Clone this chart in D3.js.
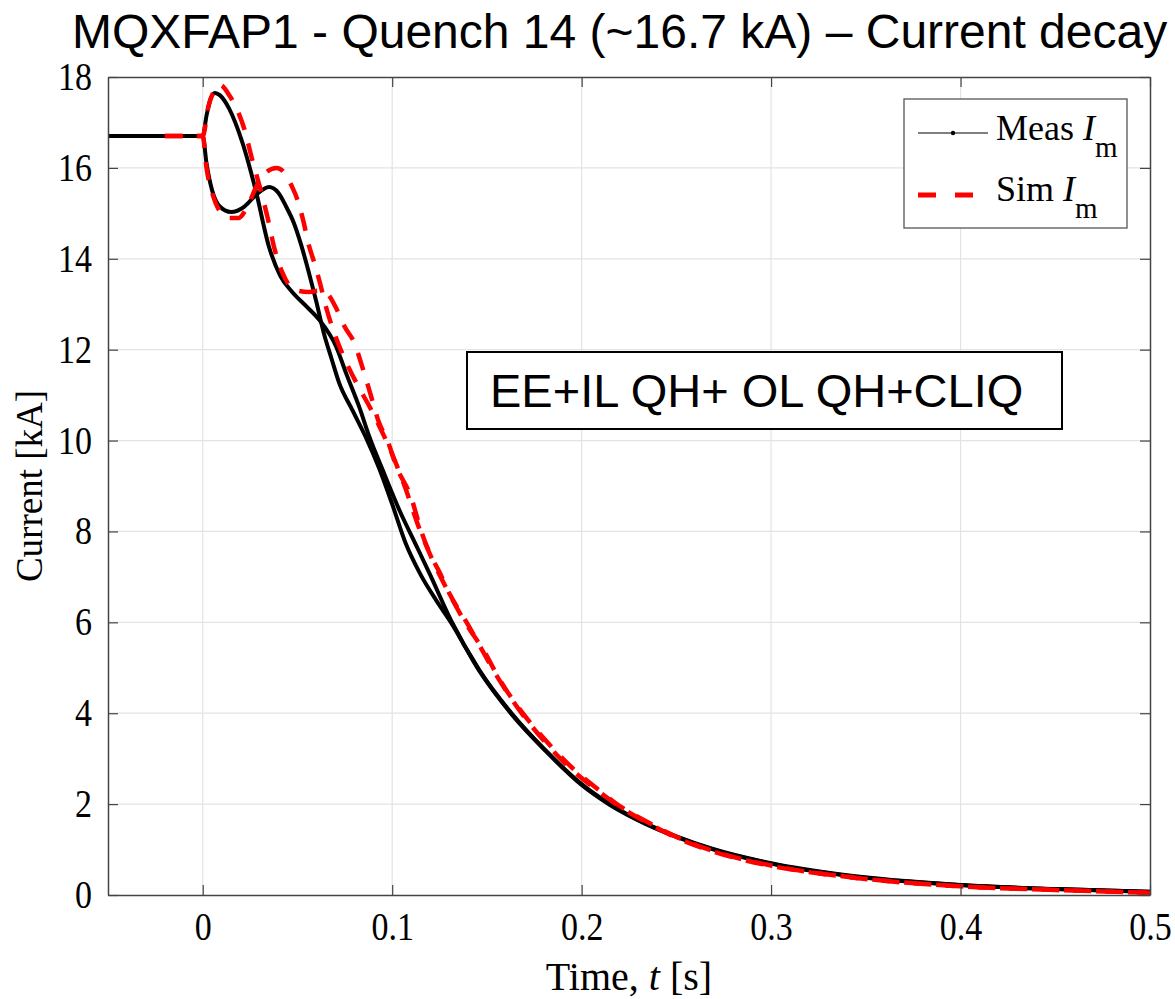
<!DOCTYPE html>
<html>
<head>
<meta charset="utf-8">
<script src="https://cdn.jsdelivr.net/npm/d3@7"></script>
<style>
  body { margin: 0; background: #fff; }
  svg { display: block; }
</style>
</head>
<body>
<svg id="chart"></svg>
<script>
// measured current, two traces (time in s, current in kA)
const measTimeA = [-0.05, 0, 0.002, 0.004, 0.0065, 0.009, 0.014, 0.021, 0.028, 0.035, 0.041, 0.047, 0.055, 0.0616, 0.0705, 0.0756, 0.0826, 0.088, 0.095, 0.104, 0.1126, 0.12, 0.131, 0.146, 0.163, 0.181, 0.2, 0.215, 0.234, 0.25, 0.268, 0.3, 0.339, 0.4, 0.45, 0.5];
const measCurA = [16.7, 16.7, 17.15, 17.5, 17.65, 17.6, 17.3, 16.55, 15.5, 14.26, 13.62, 13.28, 12.94, 12.65, 12.06, 11.49, 10.74, 10.08, 9.35, 8.45, 7.7, 7.05, 6.05, 4.95, 4.0, 3.18, 2.44, 2.0, 1.57, 1.29, 1.03, 0.7, 0.44, 0.22, 0.13, 0.07];

const measTimeB = [-0.05, 0, 0.002, 0.005, 0.009, 0.015, 0.022, 0.028, 0.035, 0.04, 0.044, 0.048, 0.052, 0.056, 0.06, 0.064, 0.068, 0.072, 0.079, 0.086, 0.093, 0.1, 0.107, 0.115, 0.123, 0.131, 0.146, 0.163, 0.181, 0.2, 0.215, 0.234, 0.25, 0.268, 0.3, 0.339, 0.4, 0.45, 0.5];
const measCurB = [16.7, 16.7, 16.1, 15.5, 15.15, 15.03, 15.15, 15.4, 15.58, 15.45, 15.15, 14.8, 14.3, 13.7, 13.05, 12.35, 11.8, 11.27, 10.67, 10.08, 9.4, 8.6, 7.75, 7.05, 6.5, 6.0, 4.93, 3.98, 3.17, 2.42, 1.98, 1.56, 1.28, 1.02, 0.69, 0.43, 0.22, 0.13, 0.07];

// simulated current, two traces
const simTimeA = [-0.02, 0, 0.003, 0.006, 0.009, 0.014, 0.019, 0.022, 0.026, 0.03, 0.034, 0.038, 0.042, 0.046, 0.05, 0.056, 0.062, 0.066, 0.07, 0.075, 0.08, 0.084, 0.088, 0.093, 0.098, 0.102, 0.11, 0.115, 0.12, 0.125, 0.13, 0.14, 0.148, 0.157, 0.168, 0.18, 0.195, 0.21, 0.218, 0.235, 0.25, 0.27, 0.3, 0.34, 0.4, 0.45, 0.5];
const simCurA = [16.7, 16.7, 17.35, 17.7, 17.83, 17.6, 17.2, 16.85, 16.2, 15.6, 14.95, 14.2, 13.7, 13.4, 13.3, 13.27, 13.3, 13.22, 12.95, 12.5, 12.15, 11.65, 11.1, 10.4, 9.95, 9.45, 8.75, 8.05, 7.5, 7.1, 6.65, 5.95, 5.35, 4.7, 4.02, 3.4, 2.75, 2.25, 2.0, 1.58, 1.26, 0.95, 0.64, 0.4, 0.19, 0.11, 0.05];

const simTimeB = [-0.02, 0, 0.002, 0.005, 0.009, 0.014, 0.019, 0.023, 0.029, 0.034, 0.039, 0.043, 0.047, 0.05, 0.053, 0.056, 0.059, 0.062, 0.065, 0.07, 0.076, 0.082, 0.088, 0.094, 0.1, 0.107, 0.114, 0.121, 0.128, 0.14, 0.148, 0.157, 0.168, 0.18, 0.195, 0.21, 0.218, 0.235, 0.25, 0.27, 0.3, 0.34, 0.4, 0.45, 0.5];
const simCurB = [16.7, 16.7, 16.0, 15.45, 15.05, 14.9, 14.9, 15.1, 15.65, 15.92, 16.0, 15.9, 15.6, 15.3, 14.85, 14.3, 13.9, 13.45, 12.95, 12.3, 11.7, 11.2, 10.75, 10.25, 9.7, 8.95, 8.1, 7.4, 6.8, 5.9, 5.4, 4.72, 4.05, 3.45, 2.8, 2.28, 2.02, 1.6, 1.28, 0.96, 0.65, 0.4, 0.19, 0.11, 0.05];

const xTicks = [0, 0.1, 0.2, 0.3, 0.4, 0.5];
const yTicks = [0, 2, 4, 6, 8, 10, 12, 14, 16, 18];

const W = 1175, H = 999;
const plot = { left: 108, right: 1150, top: 77, bottom: 895 };
const serif = "'Liberation Serif', 'Times New Roman', serif";
const sans = "'Liberation Sans', Arial, sans-serif";

const svg = d3.select("#chart").attr("width", W).attr("height", H);

const x = d3.scaleLinear().domain([-0.05, 0.5]).range([plot.left, plot.right]);
const y = d3.scaleLinear().domain([0, 18]).range([plot.bottom, plot.top]);

// grid
svg.append("g")
  .selectAll("line")
  .data(xTicks.filter((d) => d < 0.5))
  .enter()
  .append("line")
  .attr("x1", (d) => x(d)).attr("x2", (d) => x(d))
  .attr("y1", plot.top).attr("y2", plot.bottom)
  .attr("stroke", "#e3e3e3").attr("stroke-width", 1.2);

svg.append("g")
  .selectAll("line")
  .data(yTicks.filter((d) => d > 0 && d < 18))
  .enter()
  .append("line")
  .attr("x1", plot.left).attr("x2", plot.right)
  .attr("y1", (d) => y(d)).attr("y2", (d) => y(d))
  .attr("stroke", "#e3e3e3").attr("stroke-width", 1.2);

// lines
svg.append("clipPath").attr("id", "clip")
  .append("rect")
  .attr("x", plot.left).attr("y", plot.top)
  .attr("width", plot.right - plot.left).attr("height", plot.bottom - plot.top);

const line = d3.line()
  .x((d) => x(d[0]))
  .y((d) => y(d[1]))
  .curve(d3.curveMonotoneX);

const zip = (ts, vs) => ts.map((t, i) => [t, vs[i]]);

const lines = svg.append("g").attr("clip-path", "url(#clip)");

[zip(measTimeA, measCurA), zip(measTimeB, measCurB)].forEach((s) => {
  lines.append("path")
    .datum(s)
    .attr("fill", "none")
    .attr("stroke", "#000")
    .attr("stroke-width", 4)
    .attr("stroke-linejoin", "round")
    .attr("d", line);
});

[zip(simTimeA, simCurA), zip(simTimeB, simCurB)].forEach((s) => {
  lines.append("path")
    .datum(s)
    .attr("fill", "none")
    .attr("stroke", "#ff0000")
    .attr("stroke-width", 4.5)
    .attr("stroke-dasharray", "18,14")
    .attr("d", line);
});

// axes
const axisColor = "#444";
const fmt = (d) => (d === 0 ? "0" : d.toFixed(1));

svg.append("g")
  .attr("transform", `translate(0,${plot.bottom})`)
  .call(d3.axisBottom(x).tickValues(xTicks).tickFormat(fmt).tickSize(-10).tickSizeOuter(0).tickPadding(15));

svg.append("g")
  .attr("transform", `translate(${plot.left},0)`)
  .call(d3.axisLeft(y).tickValues(yTicks).tickSize(-10).tickSizeOuter(0).tickPadding(16));

svg.append("g")
  .attr("transform", `translate(0,${plot.top})`)
  .call(d3.axisTop(x).tickValues(xTicks).tickFormat("").tickSize(-10).tickSizeOuter(0));

svg.append("g")
  .attr("transform", `translate(${plot.right},0)`)
  .call(d3.axisRight(y).tickValues(yTicks).tickFormat("").tickSize(-10).tickSizeOuter(0));

svg.selectAll(".domain").attr("stroke", axisColor).attr("stroke-width", 1.5);
svg.selectAll(".tick line").attr("stroke", axisColor).attr("stroke-width", 1.2);
svg.selectAll(".tick text")
  .attr("fill", "#000")
  .attr("transform", "scale(1,1.15)")
  .style("font-family", serif)
  .style("font-size", "34px");

// axis labels
svg.append("text")
  .attr("x", x(0.225)).attr("y", 990)
  .attr("text-anchor", "middle")
  .style("font-family", serif)
  .style("font-size", "40px")
  .html('Time, <tspan font-style="italic">t</tspan> [s]');

svg.append("text")
  .attr("transform", `translate(42,${(plot.top + plot.bottom) / 2}) rotate(-90)`)
  .attr("text-anchor", "middle")
  .style("font-family", serif)
  .style("font-size", "37px")
  .text("Current [kA]");

// title
svg.append("text")
  .attr("x", 72).attr("y", 48)
  .style("font-family", sans)
  .style("font-size", "48px")
  .text("MQXFAP1 - Quench 14 (~16.7 kA) – Current decay");

// annotation box
svg.append("rect")
  .attr("x", 467).attr("y", 352).attr("width", 595).attr("height", 77)
  .attr("fill", "#fff").attr("stroke", "#000").attr("stroke-width", 2);
svg.append("text")
  .attr("x", 490).attr("y", 407)
  .style("font-family", sans)
  .style("font-size", "47px")
  .text("EE+IL QH+ OL QH+CLIQ");

// legend
const legend = svg.append("g");
legend.append("rect")
  .attr("x", 904).attr("y", 99).attr("width", 223).attr("height", 129)
  .attr("fill", "#fff").attr("stroke", "#555").attr("stroke-width", 1.3);

legend.append("line")
  .attr("x1", 918).attr("x2", 988).attr("y1", 133).attr("y2", 133)
  .attr("stroke", "#000").attr("stroke-width", 1.2);
legend.append("circle")
  .attr("cx", 953).attr("cy", 133).attr("r", 2.2).attr("fill", "#000");

legend.append("line")
  .attr("x1", 918).attr("x2", 973).attr("y1", 195).attr("y2", 195)
  .attr("stroke", "#ff0000").attr("stroke-width", 5)
  .attr("stroke-dasharray", "18,19");

const legendText = [
  { label: "Meas ", y: 140 },
  { label: "Sim ", y: 201 },
];
legendText.forEach((d) => {
  legend.append("text")
    .attr("x", 996).attr("y", d.y)
    .style("font-family", serif)
    .style("font-size", "36px")
    .html(`${d.label}<tspan font-style="italic">I</tspan><tspan dy="17" font-size="29px">m</tspan>`);
});
</script>
</body>
</html>
